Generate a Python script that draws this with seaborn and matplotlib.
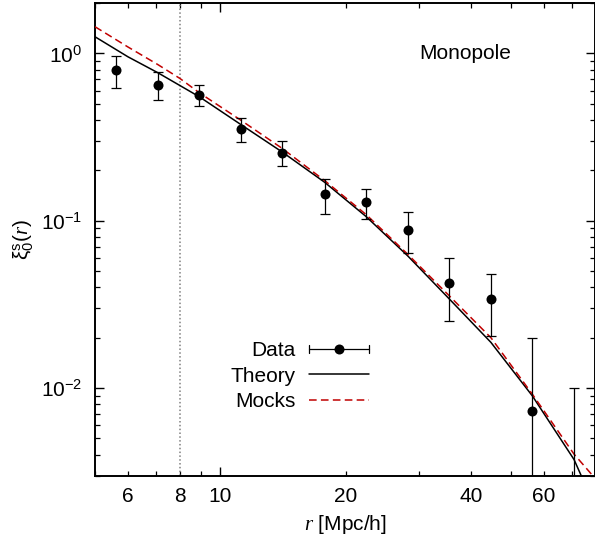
import numpy as np
import pandas as pd
import matplotlib
matplotlib.use("Agg")
import matplotlib.pyplot as plt
import seaborn as sns
from matplotlib.lines import Line2D
from matplotlib.legend_handler import HandlerBase
from matplotlib.ticker import FixedLocator, FuncFormatter, LogLocator, NullFormatter

# ---------------- data ----------------
r_data = [5.62, 7.08, 8.91, 11.2, 14.1, 17.8, 22.4, 28.2, 35.5, 44.7, 56.2, 70.8]
xi_data = [0.794, 0.646, 0.563, 0.354, 0.255, 0.144, 0.129, 0.0879, 0.0425, 0.0343, 0.00725, 0.002]
xi_hi = [0.96, 0.77, 0.646, 0.411, 0.30, 0.177, 0.155, 0.112, 0.0597, 0.0482, 0.0198, 0.010]
xi_lo = [0.622, 0.53, 0.483, 0.296, 0.212, 0.110, 0.103, 0.0643, 0.0253, 0.0204, 0.0001, 0.0001]

r_theory = [5.0, 6.0, 7.08, 8.91, 11.2, 14.1, 17.8, 22.4, 28.2, 35.5, 44.7, 56.2, 70.8, 75.0]
xi_theory = [1.257, 0.954, 0.766, 0.550, 0.376, 0.257, 0.170, 0.106, 0.0617, 0.0341, 0.01875,
             0.00899, 0.00374, 0.00271]

r_mocks = [5.0, 6.0, 7.08, 8.0, 8.91, 11.2, 14.1, 17.8, 22.4, 28.2, 35.5, 44.7, 56.2, 70.8, 80.0]
xi_mocks = [1.443, 1.092, 0.857, 0.708, 0.581, 0.399, 0.270, 0.174, 0.109, 0.0631, 0.0356,
            0.0200, 0.0092, 0.00403, 0.00284]

x_label_ticks = [6, 8, 10, 20, 40, 60]
r_cut = 8.0

# ---------------- style ----------------
sns.set_theme(style="white")
plt.rcParams["font.family"] = ["Liberation Sans", "DejaVu Sans"]
plt.rcParams["mathtext.fontset"] = "custom"
plt.rcParams["mathtext.rm"] = "Liberation Sans"
plt.rcParams["mathtext.it"] = "Liberation Serif:italic"
plt.rcParams["mathtext.bf"] = "Liberation Sans:bold"
plt.rcParams["axes.unicode_minus"] = False
for k in ("text.color", "axes.labelcolor", "xtick.color", "ytick.color", "axes.edgecolor"):
    plt.rcParams[k] = "black"

FS = 15

fig = plt.figure(figsize=(5.95, 5.44), dpi=100)
ax = fig.add_axes([95 / 595, 1 - 475.6 / 544, 1 - 95 / 595, (475.6 - 3) / 544])
ax.set_xscale("log")
ax.set_yscale("log")

df_th = pd.DataFrame({"r": r_theory, "xi": xi_theory})
df_mk = pd.DataFrame({"r": r_mocks, "xi": xi_mocks})
df_d = pd.DataFrame({"r": r_data, "xi": xi_data})

ax.axvline(r_cut, color="#808080", lw=1.1, ls=(0, (1, 1.5)), zorder=1)

sns.lineplot(data=df_th, x="r", y="xi", ax=ax, color="black", lw=1.1, sort=False, zorder=3)
sns.lineplot(data=df_mk, x="r", y="xi", ax=ax, color="#c00000", lw=1.1, sort=False,
             zorder=3, dashes=False, linestyle=(0, (5.0, 2.8)))

yerr = np.array([np.array(xi_data) - np.array(xi_lo), np.array(xi_hi) - np.array(xi_data)])
ax.errorbar(r_data, xi_data, yerr=yerr, fmt="none", ecolor="black", elinewidth=0.9,
            capsize=3.6, capthick=0.9, zorder=4)
sns.scatterplot(data=df_d, x="r", y="xi", ax=ax, color="black", s=52, edgecolor="black",
                linewidth=0, zorder=5)

ax.set_xlim(5, 79.5)
ax.set_ylim(0.003, 2.0)

# ticks
ax.xaxis.set_major_locator(FixedLocator([10, 100]))
ax.xaxis.set_major_formatter(FuncFormatter(lambda v, p: f"{v:g}" if v in x_label_ticks else ""))
minors = [v * d for d in (1, 10) for v in range(2, 10)]
ax.xaxis.set_minor_locator(FixedLocator(minors))
ax.xaxis.set_minor_formatter(FuncFormatter(lambda v, p: f"{v:g}" if round(v) in x_label_ticks else ""))
ax.yaxis.set_major_locator(LogLocator(base=10, numticks=10))
ax.yaxis.set_minor_locator(LogLocator(base=10, subs=np.arange(2, 10), numticks=20))
ax.yaxis.set_minor_formatter(NullFormatter())

ax.tick_params(which="both", direction="in", top=True, right=True, bottom=True, left=True,
               colors="black", labelsize=FS)
ax.tick_params(which="major", length=6.5, width=1.0)
ax.tick_params(which="minor", length=3.4, width=0.9)
ax.tick_params(axis="x", which="both", pad=8.5)
ax.tick_params(axis="y", which="both", pad=9)

for s in ax.spines.values():
    s.set_linewidth(1.4)
    s.set_color("black")

ax.set_xlabel(r"$r$ [Mpc/h]", fontsize=FS, labelpad=5)
ax.set_ylabel(r"$\mathrm{ξ}^{\mathrm{s}}_{0}(r)$", fontsize=FS, labelpad=4)

fig.text(465 / 595, 1 - 53.3 / 544, "Monopole", ha="center", va="center", fontsize=FS)


# legend with gnuplot-style horizontal error bar sample
class HandlerHErr(HandlerBase):
    def create_artists(self, legend, orig_handle, xdescent, ydescent, width, height,
                       fontsize, trans):
        y = 0.5 * height - ydescent
        x0, x1 = -xdescent, width - xdescent
        c = 3.0
        arts = [
            Line2D([x0, x1], [y, y], color="black", lw=0.9),
            Line2D([x0, x0], [y - c, y + c], color="black", lw=0.9),
            Line2D([x1, x1], [y - c, y + c], color="black", lw=0.9),
            Line2D([0.5 * (x0 + x1)], [y], marker="o", ms=7.2, color="black", mew=0, ls="none"),
        ]
        for a in arts:
            a.set_transform(trans)
        return arts


h_data = Line2D([], [], color="black")
h_th = Line2D([], [], color="black", lw=1.1)
h_mk = Line2D([], [], color="#c00000", lw=1.1, ls=(0, (5.0, 2.8)))
ax.legend([h_data, h_th, h_mk], ["Data", "Theory", "Mocks"],
          handler_map={h_data: HandlerHErr()}, markerfirst=False, frameon=False,
          fontsize=FS, handlelength=2.9, handletextpad=0.62, labelspacing=0.3,
          borderpad=0, borderaxespad=0, loc="upper right",
          bbox_to_anchor=(369 / 595, 1 - 341.5 / 544), bbox_transform=fig.transFigure)

fig.savefig("out.png", dpi=100)
